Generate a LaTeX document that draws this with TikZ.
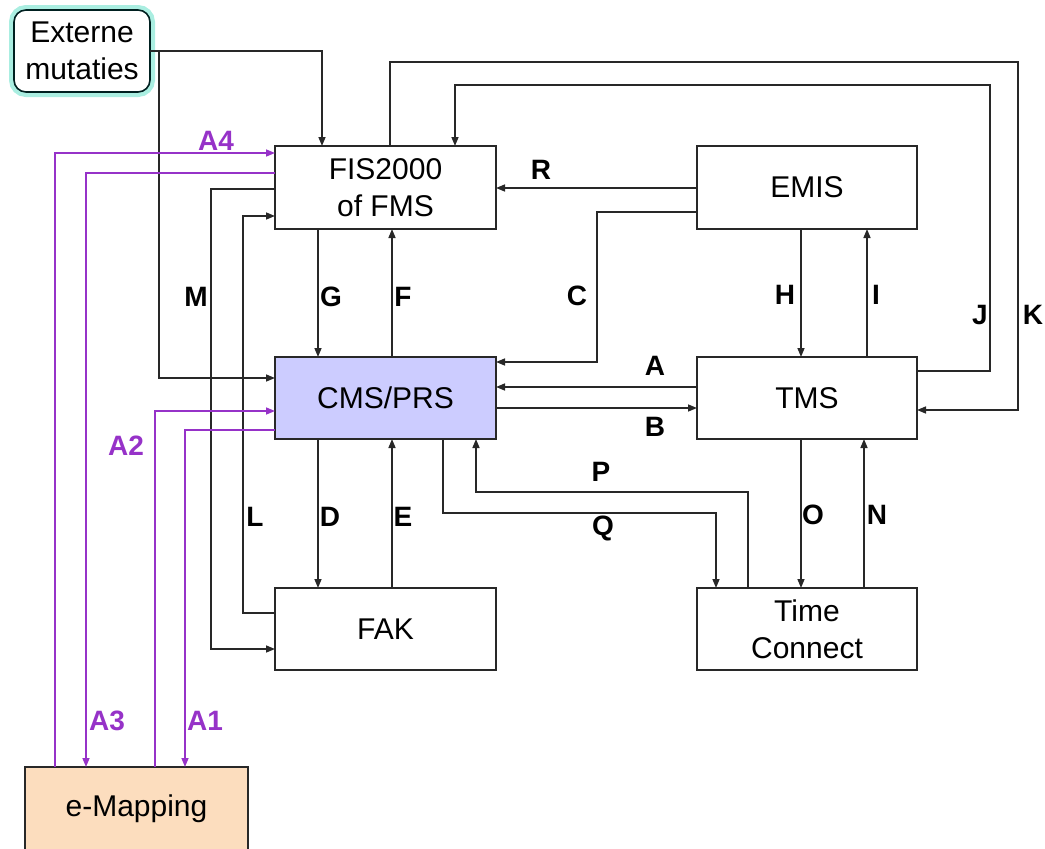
\documentclass[tikz,border=0pt]{standalone}
\usepackage{fontspec}
\setmainfont{Liberation Sans}
\usetikzlibrary{arrows.meta,positioning}
\definecolor{mauve}{RGB}{150,50,200}
\definecolor{lavender}{RGB}{204,204,255}
\definecolor{peach}{RGB}{252,221,190}
\definecolor{glow}{RGB}{170,238,225}
\definecolor{ink}{RGB}{40,40,40}

\begin{document}
\begin{tikzpicture}[x=1pt,y=-1pt,node distance=201pt,
  box/.style={draw=ink, line width=1.6pt, minimum width=221pt, minimum height=83pt, inner sep=0pt, outer sep=0pt, align=center, font=\fontsize{30}{37}\selectfont},
  arr/.style={-{Triangle[length=9pt,width=7pt]}, draw=ink, line width=1.5pt},
  parr/.style={arr, draw=mauve},
  lbl/.style={font=\bfseries\fontsize{28}{30}\selectfont},
  plbl/.style={lbl, text=mauve}]
\useasboundingbox (0,0) rectangle (1045,849);

% systems
\node (fis) [box] at (385.5,187.5) {FIS2000\\of FMS};
\node (emis) [box, minimum width=220pt, right=of fis] {EMIS};
\node (cms) [box, fill=lavender, minimum height=82pt, below=128pt of fis] {CMS/PRS};
\node (tms) [box, minimum width=220pt, minimum height=82pt, right=of cms] {TMS};
\node (fak) [box, minimum height=82pt, below=149pt of cms] {FAK};
\node (tc) [box, minimum width=220pt, minimum height=82pt, right=of fak] {Time\\Connect};
\node (ext) [box, draw=black!75!teal, fill=white, rounded corners=12pt, minimum width=136pt, minimum height=82pt, preaction={draw=glow, line width=10pt}] at (82,51) {Externe\\mutaties};
\node (emap) [box, fill=peach, minimum width=223pt, minimum height=84pt] at (136.5,809) {e-Mapping};

% black flows
\draw[arr] (ext.east) -| ([xshift=-63.5pt]fis.north);
\coordinate (mfork) at (159,51);
\draw[arr] (mfork) |- (cms.west |- 0,378);
\draw[arr] (fis.west |- 0,189) -- (211,189) |- (fak.west |- 0,649);
\draw[arr] (fak.west |- 0,613) -- (243,613) |- (fis.west |- 0,216);
\draw[arr] (fis.south -| 318,0) -- (cms.north -| 318,0);
\draw[arr] (cms.north -| 392,0) -- (fis.south -| 392,0);
\draw[arr] (cms.south -| 318,0) -- (fak.north -| 318,0);
\draw[arr] (fak.north -| 392,0) -- (cms.south -| 392,0);
\draw[arr] (emis.west |- 0,188) -- (fis.east |- 0,188);
\draw[arr] (emis.west |- 0,212) -- (597,212) |- (cms.east |- 0,362);
\draw[arr] (tms.west |- 0,387) -- (cms.east |- 0,387);
\draw[arr] (cms.east |- 0,408) -- (tms.west |- 0,408);
\draw[arr] (emis.south -| 801,0) -- (tms.north -| 801,0);
\draw[arr] (tms.north -| 867,0) -- (emis.south -| 867,0);
\draw[arr] (tms.south -| 801,0) -- (tc.north -| 801,0);
\draw[arr] (tc.north -| 864,0) -- (tms.south -| 864,0);
\draw[arr] (tc.north -| 748,0) -- (748,492) -| (cms.south -| 476,0);
\draw[arr] (cms.south -| 443,0) -- (443,513) -| (tc.north -| 716,0);
\draw[arr] (tms.east |- 0,371) -| (990,85) -| (fis.north -| 455,0);
\draw[arr] (fis.north -| 390,0) |- (1018,62) |- (tms.east |- 0,410);

% e-Mapping flows
\draw[parr] (emap.north -| 55,0) |- (fis.west |- 0,153);
\draw[parr] (fis.west |- 0,173) -| (emap.north -| 86,0);
\draw[parr] (emap.north -| 155,0) |- (cms.west |- 0,411);
\draw[parr] (cms.west |- 0,430) -| (emap.north -| 185,0);

% labels
\node (lblR) [lbl] at (541,170) {R};
\node (lblC) [lbl] at (577,296) {C};
\node (lblM) [lbl] at (196,297) {M};
\node (lblG) [lbl] at (331,297) {G};
\node (lblF) [lbl] at (403,297) {F};
\node (lblH) [lbl] at (785,295) {H};
\node (lblI) [lbl] at (876,295) {I};
\node (lblJ) [lbl] at (980,315) {J};
\node (lblK) [lbl] at (1033,315) {K};
\node (lblA) [lbl] at (655,366) {A};
\node (lblB) [lbl] at (655,427) {B};
\node (lblP) [lbl] at (601,472) {P};
\node (lblQ) [lbl] at (603,528) {Q};
\node (lblL) [lbl] at (255,517) {L};
\node (lblD) [lbl] at (330,517) {D};
\node (lblE) [lbl] at (403,517) {E};
\node (lblO) [lbl] at (813,515) {O};
\node (lblN) [lbl] at (877,515) {N};
\node (lblA4) [plbl] at (216,141) {A4};
\node (lblA2) [plbl] at (126,446) {A2};
\node (lblA3) [plbl] at (107,721) {A3};
\node (lblA1) [plbl] at (205,721) {A1};
\end{tikzpicture}
\end{document}
